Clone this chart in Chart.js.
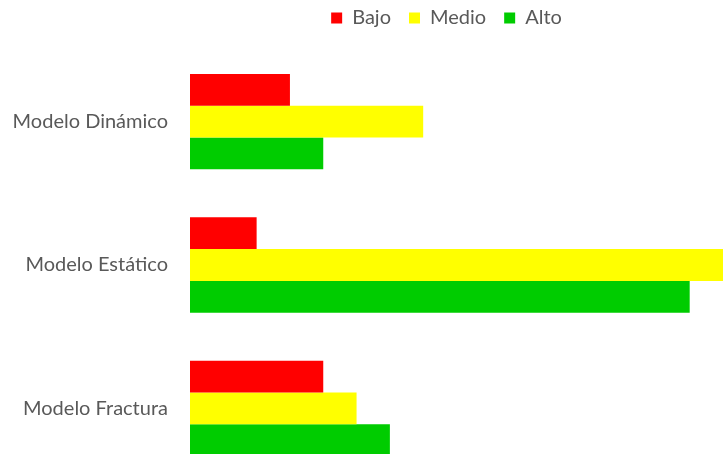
<!DOCTYPE html>
<html>
  <head>
    <meta charset="utf-8">
    <script src="https://cdn.jsdelivr.net/npm/chart.js"></script>
  </head>
  <style>
    body {
      margin: 0;
      background: white;
    }
    #wrap {
      width: 723px;
      height: 454px;
      overflow: hidden;
    }
  </style>
  <body>
    <div id="wrap">
      <canvas id="modelChart" width="723" height="480"></canvas>
    </div>
    <script>
      const MODELOS = ['Modelo Dinámico', 'Modelo Estático', 'Modelo Fractura'];
      const BAJO = [3, 2, 4];
      const MEDIO = [7, 16, 5];
      const ALTO = [4, 15, 6];

      const COLORS = {
        red: '#ff0000',
        yellow: '#ffff00',
        green: '#00cc00'
      };

      const FONT = 'Lato, "Open Sans", sans-serif';
      const LEGEND_HEIGHT = 50;
      const LEGEND_SHIFT = { x: 85, y: -10 };

      const makeSet = (label, values, color) => ({
        label: label,
        data: values,
        backgroundColor: color,
        borderWidth: 0,
        barPercentage: 1,
        categoryPercentage: 0.665
      });

      // fixed legend height, and legend drawn centred over the bars instead of the canvas
      const legendTweak = {
        id: 'legendTweak',
        afterInit: (chart) => {
          const legend = chart.legend;
          const fit = legend.fit.bind(legend);
          const draw = legend.draw.bind(legend);
          legend.fit = () => {
            fit();
            legend.height = LEGEND_HEIGHT;
          };
          legend.draw = () => {
            const ctx = chart.ctx;
            ctx.save();
            ctx.translate(LEGEND_SHIFT.x, LEGEND_SHIFT.y);
            draw();
            ctx.restore();
          };
        }
      };

      const config = {
        type: 'bar',
        data: {
          labels: MODELOS,
          datasets: [
            makeSet('Bajo', BAJO, COLORS.red),
            makeSet('Medio', MEDIO, COLORS.yellow),
            makeSet('Alto', ALTO, COLORS.green)
          ]
        },
        options: {
          indexAxis: 'y',
          responsive: false,
          animation: false,
          scales: {
            x: {
              display: false,
              min: 0,
              max: 16
            },
            y: {
              grid: { display: false, drawTicks: false },
              border: { display: false },
              ticks: {
                color: '#595959',
                padding: 22,
                font: { family: FONT, size: 20 }
              },
              afterFit: (scale) => {
                scale.width = 190;
                scale.paddingTop = 0;
                scale.paddingBottom = 0;
              }
            }
          },
          plugins: {
            legend: {
              position: 'top',
              labels: {
                color: '#595959',
                boxWidth: 11,
                boxHeight: 11,
                padding: 18,
                font: { family: FONT, size: 20 }
              }
            },
            tooltip: { enabled: false }
          }
        },
        plugins: [legendTweak]
      };

      new Chart(document.getElementById('modelChart'), config);
    </script>
  </body>
</html>
